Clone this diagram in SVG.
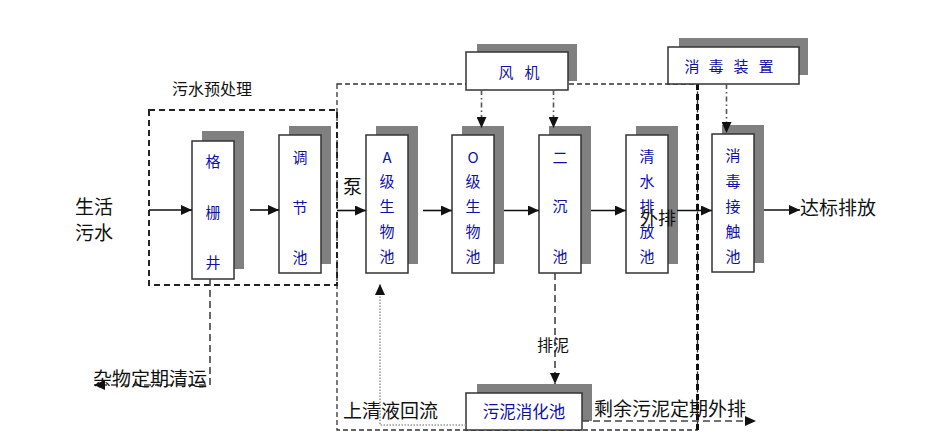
<svg xmlns="http://www.w3.org/2000/svg" width="935" height="441" viewBox="0 0 935 441">
<style>
.sh{fill:#808080}
.bx{fill:#fff;stroke:#333;stroke-width:1.5}
.bt{font-family:"Noto Sans CJK SC",sans-serif;font-size:15px;fill:#1010a8;text-anchor:middle;dominant-baseline:central}
.lb{font-family:"Noto Sans CJK SC",sans-serif;font-size:19px;fill:#111;dominant-baseline:central}
.sm{font-size:16px}
.solid{stroke:#111;stroke-width:1.6;fill:none;marker-end:url(#ah)}
.dash{stroke:#444;stroke-width:1.6;fill:none;stroke-dasharray:7 4}
.dd{stroke:#555;stroke-width:1.6;fill:none;stroke-dasharray:5 3 1.5 3;marker-end:url(#ah)}
.dot{stroke:#999;stroke-width:1.6;fill:none;stroke-dasharray:1.5 1.5}
</style>
<defs>
<marker id="ah" markerUnits="userSpaceOnUse" markerWidth="12" markerHeight="10" refX="11" refY="5" orient="auto">
<path d="M0,0 L11,5 L0,10 Z" fill="#111"/>
</marker>
</defs>
<rect width="935" height="441" fill="#fff"/>

<g id="frames">
<rect x="337" y="84" width="360.5" height="346" fill="none" stroke="#333" stroke-width="1.3" stroke-dasharray="5 3"/>
<line x1="697.5" y1="84" x2="697.5" y2="430" stroke="#111" stroke-width="3" stroke-dasharray="6 4"/>
<rect x="149" y="110" width="188" height="175" fill="none" stroke="#222" stroke-width="2" stroke-dasharray="6 4"/>
</g>

<g id="grille">
<rect class="sh" x="202" y="131" width="42" height="138"/>
<rect class="bx" x="192" y="141" width="42" height="138"/>
<text class="bt" x="213" y="160">格</text><text class="bt" x="213" y="211">栅</text><text class="bt" x="213" y="261">井</text>
</g>
<g id="regulate">
<rect class="sh" x="289" y="126" width="42" height="138"/>
<rect class="bx" x="279" y="135" width="42" height="138"/>
<text class="bt" x="300" y="156">调</text><text class="bt" x="300" y="206">节</text><text class="bt" x="300" y="256">池</text>
</g>
<g id="atank">
<rect class="sh" x="376" y="126" width="42" height="138"/>
<rect class="bx" x="366" y="135" width="42" height="138"/>
<text class="bt" x="387" y="156">A</text><text class="bt" x="387" y="180">级</text><text class="bt" x="387" y="205">生</text><text class="bt" x="387" y="230">物</text><text class="bt" x="387" y="255">池</text>
</g>
<g id="otank">
<rect class="sh" x="462" y="126" width="42" height="138"/>
<rect class="bx" x="452" y="135" width="42" height="138"/>
<text class="bt" x="473" y="156">O</text><text class="bt" x="473" y="180">级</text><text class="bt" x="473" y="205">生</text><text class="bt" x="473" y="230">物</text><text class="bt" x="473" y="255">池</text>
</g>
<g id="settle">
<rect class="sh" x="549" y="126" width="42" height="138"/>
<rect class="bx" x="539" y="135" width="42" height="138"/>
<text class="bt" x="560" y="156">二</text><text class="bt" x="560" y="205">沉</text><text class="bt" x="560" y="255">池</text>
</g>
<g id="clear">
<rect class="sh" x="636" y="126" width="42" height="138"/>
<rect class="bx" x="626" y="135" width="42" height="138"/>
<text class="bt" x="647" y="155">清</text><text class="bt" x="647" y="180">水</text><text class="bt" x="647" y="205">排</text><text class="bt" x="647" y="230">放</text><text class="bt" x="647" y="255">池</text>
</g>
<g id="contact">
<rect class="sh" x="722" y="125" width="42" height="138"/>
<rect class="bx" x="712" y="134" width="42" height="138"/>
<text class="bt" x="733" y="154">消</text><text class="bt" x="733" y="180">毒</text><text class="bt" x="733" y="205">接</text><text class="bt" x="733" y="230">触</text><text class="bt" x="733" y="255">池</text>
</g>
<g id="blower">
<rect class="sh" x="477" y="44" width="100" height="37"/>
<rect class="bx" x="466" y="52" width="102" height="38"/>
<text class="bt" y="71"><tspan x="506">风</tspan><tspan x="532">机</tspan></text>
</g>
<g id="disinfect">
<rect class="sh" x="679" y="38" width="129" height="37"/>
<rect class="bx" x="668" y="47" width="131" height="37"/>
<text class="bt" y="65"><tspan x="692">消</tspan><tspan x="716">毒</tspan><tspan x="741">装</tspan><tspan x="766">置</tspan></text>
</g>
<g id="sludge">
<rect class="sh" x="477" y="384" width="115" height="37"/>
<rect class="bx" x="466" y="393" width="116" height="37"/>
<text class="bt" x="524" y="411" style="font-size:16.5px">污泥消化池</text>
</g>

<g id="connectors">
<line class="solid" x1="149" y1="210" x2="192" y2="210"/>
<line class="solid" x1="250" y1="210" x2="279" y2="210"/>
<line class="solid" x1="337" y1="210.5" x2="366" y2="210.5"/>
<line class="solid" x1="423" y1="210.5" x2="452" y2="210.5"/>
<line class="solid" x1="504" y1="210.5" x2="539" y2="210.5"/>
<line class="solid" x1="591" y1="210.5" x2="626" y2="210.5"/>
<line class="solid" x1="677" y1="210.5" x2="712" y2="210.5"/>
<line class="solid" x1="764" y1="210" x2="800" y2="210"/>
<path class="dd" d="M481.5,90 V128"/>
<path class="dd" d="M553.5,90 V128"/>
<path class="dd" d="M726.5,84 V133"/>
<path class="dash" d="M210,279 V385 H94" marker-end="url(#ah)"/>
<path class="dash" d="M555,273 V384" marker-end="url(#ah)"/>
<path class="dash" d="M582,421 H756" marker-end="url(#ah)"/>
<path class="dot" d="M466,425 H380 V284" marker-end="url(#ah)"/>
</g>

<g id="labels">
<text class="lb" x="75" y="205">生活</text>
<text class="lb" x="75" y="231">污水</text>
<text class="lb sm" x="172" y="88">污水预处理</text>
<text class="lb" x="343" y="185">泵</text>
<text class="lb" x="640" y="217" style="font-size:18px">外排</text>
<text class="lb" x="800" y="206">达标排放</text>
<text class="lb" x="93" y="377">杂物定期清运</text>
<text class="lb" x="343" y="409">上清液回流</text>
<text class="lb sm" x="537" y="344">排泥</text>
<text class="lb" x="594" y="407">剩余污泥定期外排</text>
</g>
</svg>
